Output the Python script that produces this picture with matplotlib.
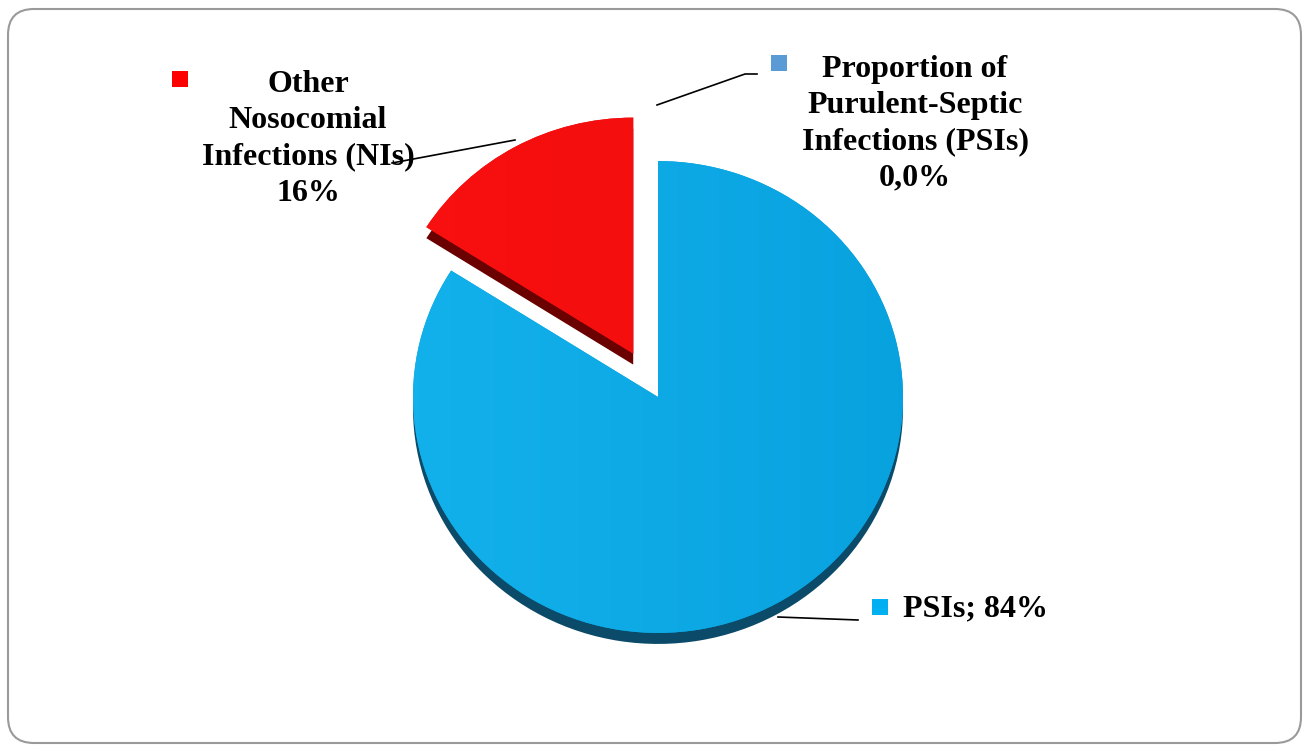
import numpy as np
import matplotlib.pyplot as plt
from matplotlib.colors import LinearSegmentedColormap
from matplotlib.patches import FancyBboxPatch, Rectangle
from matplotlib.transforms import IdentityTransform

# data (Excel order: clockwise from 12 o'clock)
labels = ['PSIs', 'Other Nosocomial Infections (NIs)',
          'Proportion of Purulent-Septic Infections (PSIs)']
values = [84, 16, 0]
top_left = ['#14b3ed', '#fa1010', '#5b9bd5']
top_right = ['#07a0de', '#ee0c0c', '#5b9bd5']
side_colors = ['#0b4a68', '#6a0000', '#2f5f8f']
marker_colors = ['#00b0f0', '#ff0000', '#5b9bd5']

W, H = 1309, 745
YS = 0.963  # vertical squash of the tilted pie

fig = plt.figure(figsize=(W / 100, H / 100), dpi=100)
ax = fig.add_axes([0, 0, 1, 1])


def to(xp, yp):
    # pixel position (top-left origin) -> data coords
    return xp, (H - yp) / YS


cx, cy = to(658, 397)
r = 245
depth = 11 / YS
explode = [0, 0.21 * r, 0]   # pie() uses explode in data units

# side (depth) first, then top face
ax.pie(values, colors=side_colors, startangle=90, counterclock=False,
       center=(cx, cy - depth), radius=r, explode=explode,
       wedgeprops=dict(linewidth=0), frame=True)
wedges, _ = ax.pie(values, colors=top_right, startangle=90, counterclock=False,
                   center=(cx, cy), radius=r, explode=explode,
                   wedgeprops=dict(linewidth=0), frame=True)

# soft left-to-right shading on the top faces
grad = np.linspace(0, 1, 256).reshape(1, -1)
for w, c0, c1 in zip(wedges[:2], top_left, top_right):
    cmap = LinearSegmentedColormap.from_list('g', [c0, c1])
    im = ax.imshow(grad, cmap=cmap, aspect='auto',
                   extent=(cx - r - 60, cx + r + 60, cy - r - 60, cy + r + 60),
                   zorder=w.get_zorder() + 0.1)
    im.set_clip_path(w)

ax.set_xlim(0, W)
ax.set_ylim(0, H / YS)
ax.set_aspect('auto')
ax.axis('off')

font = dict(family=['Liberation Serif', 'DejaVu Serif'], fontweight='bold',
            fontsize=23, color='black')

# leader lines
ax.plot(*zip(to(392, 163), to(515, 140)), color='black', lw=1.2, zorder=5)
ax.plot(*zip(to(657, 105), to(745, 74), to(757, 74)), color='black', lw=1.2, zorder=5)
ax.plot(*zip(to(778, 617), to(858, 620)), color='black', lw=1.2, zorder=5)

# labels
ax.text(*to(308, 139), 'Other\nNosocomial\nInfections (NIs)\n%d%%' % values[1],
        ha='center', va='center', linespacing=1.32, zorder=6, **font)
ax.text(*to(915, 124), 'Proportion of\nPurulent-Septic\nInfections (PSIs)\n'
        + ('%.1f' % values[2]).replace('.', ',') + '%',
        ha='center', va='center', linespacing=1.32, zorder=6, **font)
ax.text(*to(903, 609), '%s; %d%%' % (labels[0], values[0]),
        ha='left', va='center', zorder=6, **font)

# legend-key squares
s = 16
for (xp, yp), c in zip([(880, 607), (180, 79), (779, 63)], marker_colors):
    x0, y0 = to(xp - s / 2, yp + s / 2)
    ax.add_patch(Rectangle((x0, y0), s, s / YS, color=c, lw=0, zorder=6))

# rounded frame
frame = FancyBboxPatch((8, 2), W - 16, H - 11,
                       boxstyle='round,pad=0,rounding_size=26',
                       transform=IdentityTransform(), fill=False,
                       edgecolor='#9a9a9a', linewidth=1.5, clip_on=False)
fig.add_artist(frame)

fig.savefig('out.png', dpi=100)
